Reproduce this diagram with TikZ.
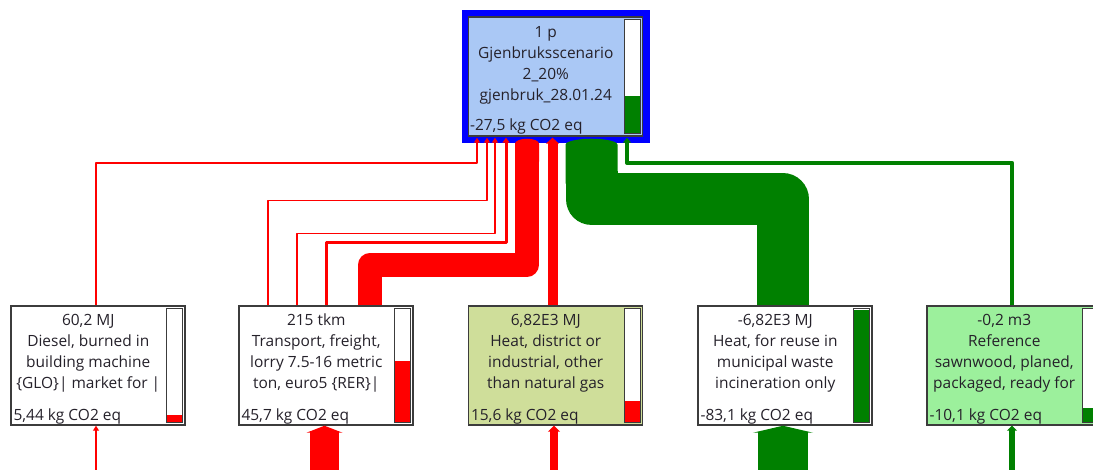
\documentclass[tikz,border=0pt]{standalone}
\usepackage{fontspec}
\setmainfont{Open Sans}
\usetikzlibrary{arrows.meta, calc}
\definecolor{flowred}{HTML}{FF0000}
\definecolor{flowgreen}{HTML}{008000}
\definecolor{frameblue}{HTML}{0000FF}
\definecolor{skyfill}{HTML}{AAC8F5}
\definecolor{olivefill}{HTML}{CFDE9A}
\definecolor{mintfill}{HTML}{9CF09C}
\definecolor{edgegray}{HTML}{3C3C3C}
\definecolor{inkgray}{HTML}{25212A}

\tikzset{
  procbox/.style={rectangle, draw=edgegray, line width=1.1pt, fill=white, inner sep=0pt,
    minimum width=130.5pt, minimum height=89.25pt},
  proclabel/.style={text=inkgray, font=\fontsize{11.6}{15.75}\selectfont, align=center, inner sep=0pt},
  procvalue/.style={text=inkgray, font=\fontsize{11.6}{15.75}\selectfont, anchor=west, inner sep=0pt},
  barframe/.style={draw=edgegray, line width=0.9pt},
  redflow/.style={draw=flowred, line join=round},
  greenflow/.style={draw=flowgreen, line join=round},
}

% level bar on the right side of a process box: node, share, colour
\newcommand{\levelbar}[3]{%
  \fill[white] ($(#1.north east)+(-19,3)$) rectangle ($(#1.south east)+(-3,-3)$);
  \fill[#3] ($(#1.south east)+(-19,-3)$) rectangle ($(#1.south east)+(-3,{-3-113*#2})$);
  \draw[barframe] ($(#1.north east)+(-19,3)$) rectangle ($(#1.south east)+(-3,-3)$);
}

\begin{document}
\begin{tikzpicture}[x=0.75pt, y=-0.75pt]

\clip (0,0) rectangle (1093,470);

% Blue frame round the product
\fill[frameblue] (462,10) rectangle (650,143);

% Process boxes
\node[procbox, fill=skyfill] (scenario) at (555.5,76.5) {};
\node[procbox] (diesel) at (98,365.5) {};
\node[procbox] (transport) at (326,365.5) {};
\node[procbox, fill=olivefill] (heat) at (555.5,365.5) {};
\node[procbox] (reuse) at (785,365.5) {};
\node[procbox, fill=mintfill] (sawn) at (1014,365.5) {};

% Level bars
\levelbar{scenario}{0.33}{flowgreen}
\levelbar{diesel}{0.07}{flowred}
\levelbar{transport}{0.55}{flowred}
\levelbar{heat}{0.19}{flowred}
\levelbar{reuse}{1}{flowgreen}
\levelbar{sawn}{0.13}{flowgreen}

% Texts
\node[proclabel] (scenariotxt) at ($(scenario.north west)+(78,49.5)$) {1 p\\Gjenbruksscenario\\2\_20\%\\gjenbruk\_28.01.24};
\node[procvalue] (scenarioval) at ($(scenario.south west)+(2,-10)$) {-27,5 kg CO2 eq};

\node[proclabel] (dieseltxt) at ($(diesel.north west)+(78,47.5)$) {60,2 MJ\\Diesel, burned in\\building machine\\\{GLO\}| market for |};
\node[procvalue] (dieselval) at ($(diesel.south west)+(3,-9)$) {5,44 kg CO2 eq};

\node[proclabel] (transporttxt) at ($(transport.north west)+(78,47.5)$) {215 tkm\\Transport, freight,\\lorry 7.5-16 metric\\ton, euro5 \{RER\}|};
\node[procvalue] (transportval) at ($(transport.south west)+(3,-9)$) {45,7 kg CO2 eq};

\node[proclabel] (heattxt) at ($(heat.north west)+(78,47.5)$) {6,82E3 MJ\\Heat, district or\\industrial, other\\than natural gas};
\node[procvalue] (heatval) at ($(heat.south west)+(3,-9)$) {15,6 kg CO2 eq};

\node[proclabel] (reusetxt) at ($(reuse.north west)+(78,47.5)$) {-6,82E3 MJ\\Heat, for reuse in\\municipal waste\\incineration only};
\node[procvalue] (reuseval) at ($(reuse.south west)+(3,-9)$) {-83,1 kg CO2 eq};

\node[proclabel] (sawntxt) at ($(sawn.north west)+(78,47.5)$) {-0,2 m3\\Reference\\sawnwood, planed,\\packaged, ready for};
\node[procvalue] (sawnval) at ($(sawn.south west)+(3,-9)$) {-10,1 kg CO2 eq};

% Flows up to the product
\draw[redflow, line width=1.5pt, -{Triangle[width=4.5pt,length=3.75pt]}]
  ($(diesel.north)+(-2,0)$) |- ($(scenario.south)+(-78.5,26)$) -- ($(scenario.south)+(-78.5,1)$);
\draw[redflow, line width=1.1pt, -{Triangle[width=4.5pt,length=3.75pt]}]
  ($(transport.north)+(-58,0)$) |- ($(scenario.south)+(-68.5,64)$) -- ($(scenario.south)+(-68.5,1)$);
\draw[redflow, line width=1.1pt, -{Triangle[width=4.5pt,length=3.75pt]}]
  ($(transport.north)+(-29,0)$) |- ($(scenario.south)+(-60.5,97)$) -- ($(scenario.south)+(-60.5,1)$);
\draw[redflow, line width=2.25pt, -{Triangle[width=5.25pt,length=3.75pt]}]
  ($(transport.north)+(0,0)$) |- ($(scenario.south)+(-49.5,106)$) -- ($(scenario.south)+(-49.5,1)$);
\draw[redflow, line width=18pt, -{Round Cap[length=3.75pt]}]
  ($(transport.north)+(44,0)$) |- ($(scenario.south)+(-28.5,128)$) -- ($(scenario.south)+(-28.5,2)$);
\draw[redflow, line width=7.5pt, -{Triangle[width=9.75pt,length=4.5pt]}]
  ($(heat.north)+(-3,0)$) -- ($(scenario.south)+(-3,1)$);
\draw[greenflow, line width=39pt, -{Round Cap[length=4.5pt]}]
  ($(reuse.north)+(-2,0)$) |- ($(scenario.south)+(36,62.5)$) -- ($(scenario.south)+(36,2)$);
\draw[greenflow, line width=3pt, -{Triangle[width=6pt,length=3.75pt]}]
  ($(sawn.north)+(-2,0)$) |- ($(scenario.south)+(71.5,26)$) -- ($(scenario.south)+(71.5,1)$);

% Flows coming in from below
\coordinate (dieselin) at (96,470);
\coordinate (transportin) at (324.5,470);
\coordinate (heatin) at (554,470);
\coordinate (reusein) at (783,470);
\coordinate (sawnin) at (1012,470);

\draw[redflow, line width=1.5pt, -{Triangle[width=4.5pt,length=3.75pt]}] (dieselin) -- (dieselin |- diesel.south);
\draw[redflow, line width=21.75pt, -{Triangle[width=27pt,length=5.25pt]}] (transportin) -- (transportin |- transport.south);
\draw[redflow, line width=6pt, -{Triangle[width=9pt,length=4.5pt]}] (heatin) -- (heatin |- heat.south);
\draw[greenflow, line width=37.5pt, -{Triangle[width=45pt,length=5.25pt]}] (reusein) -- (reusein |- reuse.south);
\draw[greenflow, line width=4.5pt, -{Triangle[width=7.5pt,length=3.75pt]}] (sawnin) -- (sawnin |- sawn.south);

\end{tikzpicture}
\end{document}
